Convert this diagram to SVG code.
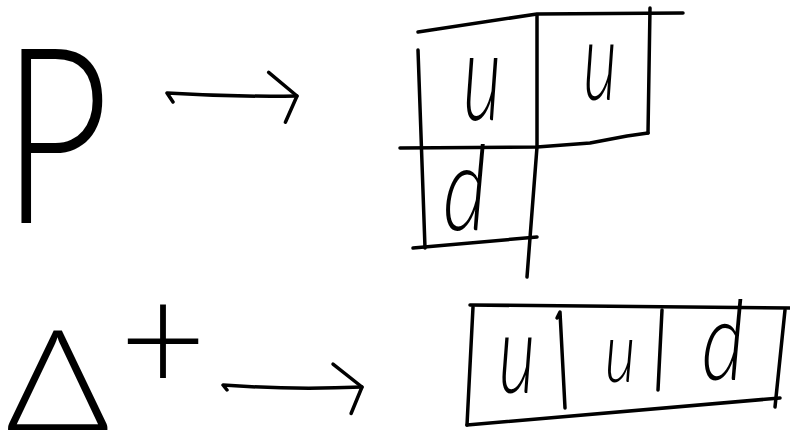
<svg xmlns="http://www.w3.org/2000/svg" width="790" height="436" viewBox="0 0 790 436">
<style>
.ink{fill:none;stroke:#000;stroke-width:3.5;stroke-linecap:round;stroke-linejoin:round}
.hw{font-family:Lato,"Open Sans","Liberation Sans",sans-serif;font-weight:300;fill:#000}
.it{font-style:italic}
</style>
<defs>
<marker id="head" markerUnits="userSpaceOnUse" viewBox="-34 -30 40 62" refX="0" refY="0" markerWidth="40" markerHeight="62" orient="auto">
<path d="M-28,-24 L0,0 L-12,26" fill="none" stroke="#000" stroke-width="3.5" stroke-linecap="round" stroke-linejoin="round"/>
</marker>
</defs>
<rect width="790" height="436" fill="#fff"/>
<g id="node-p">
<text class="hw" font-size="245" transform="translate(2,223) scale(0.76,1)">P</text>
</g>
<g id="node-tableau-uud-2x1">
<path class="ink" d="M418,32 L537,14 L683,13"/>
<path class="ink" d="M418,50 L425,248"/>
<path class="ink" d="M537,15 L537,147 L527,277"/>
<path class="ink" d="M650,8 L648,133"/>
<path class="ink" d="M400,148 L537,147 L590,143 L627,136 L648,133"/>
<path class="ink" d="M413,248 L537,237"/>
<text class="hw it" font-size="125" text-anchor="middle" transform="translate(482,120) scale(0.6,1)">u</text>
<text class="hw it" font-size="110" text-anchor="middle" transform="translate(600,100) scale(0.6,1)">u</text>
<text class="hw it" font-size="118" text-anchor="middle" transform="translate(465,230) scale(0.72,1)">d</text>
</g>
<g id="node-delta-plus">
<text class="hw" font-size="140" transform="translate(5,430) scale(1.15,1)">Δ</text>
<text class="hw" font-size="150" text-anchor="middle" x="163" y="392">+</text>
</g>
<g id="node-tableau-uud-row">
<path class="ink" d="M470,305 L790,308"/>
<path class="ink" d="M473,307 L467,425"/>
<path class="ink" d="M467,425 L780,398"/>
<path class="ink" d="M785,310 L775,407"/>
<path class="ink" d="M557,318 L560,312 L565,408"/>
<path class="ink" d="M662,310 L658,390"/>
<text class="hw it" font-size="110" text-anchor="middle" transform="translate(517,393) scale(0.65,1)">u</text>
<text class="hw it" font-size="85" text-anchor="middle" transform="translate(620,382) scale(0.7,1)">u</text>
<text class="hw it" font-size="110" text-anchor="middle" transform="translate(723,380) scale(0.75,1)">d</text>
</g>
<g id="connectors">
<path class="ink" d="M173,102 L167,93 Q230,97 297,96" marker-end="url(#head)"/>
<path class="ink" d="M227,390 L223,385 Q290,390 362,387" marker-end="url(#head)"/>
</g>
</svg>
